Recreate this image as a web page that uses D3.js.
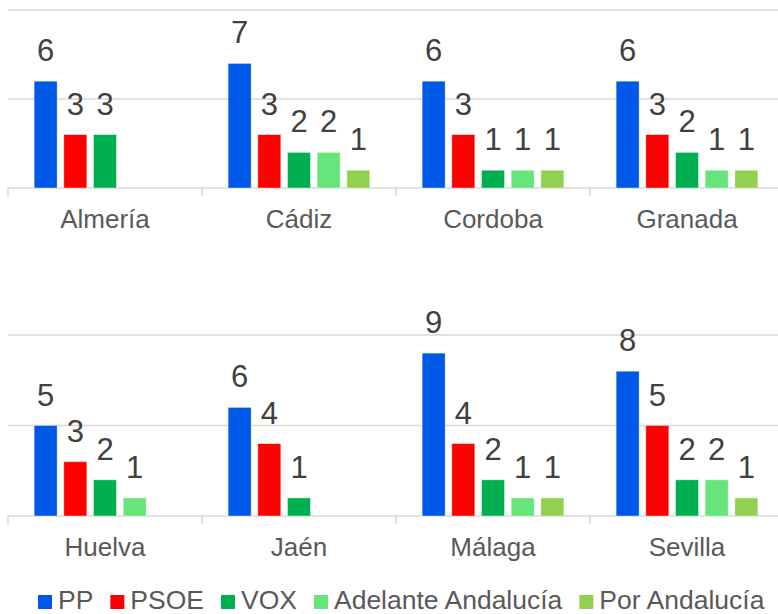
<!DOCTYPE html>
<html>
<head>
<meta charset="utf-8">
<script src="https://cdn.jsdelivr.net/npm/d3@7"></script>
<style>
  body { margin: 0; background: #fff; }
  svg { display: block; font-family: "Liberation Sans", Arial, sans-serif; }
</style>
</head>
<body>
<div id="chart"></div>
<script>
var width = 778, height = 614;

// data (seats per province)
var rowTop = ["Almería", "Cádiz", "Cordoba", "Granada"];
var rowBottom = ["Huelva", "Jaén", "Málaga", "Sevilla"];
var categories = rowTop.concat(rowBottom);
var seriesNames = ["PP", "PSOE", "VOX", "Adelante Andalucía", "Por Andalucía"];
var PP   = [6, 7, 6, 6, 5, 6, 9, 8];
var PSOE = [3, 3, 3, 3, 3, 4, 4, 5];
var VOX  = [3, 2, 1, 2, 2, 1, 2, 2];
var AA   = [0, 2, 1, 1, 1, 0, 1, 2];
var PorA = [0, 1, 1, 1, 0, 0, 1, 1];
var gridTicks = [0, 5, 10];

var seriesValues = [PP, PSOE, VOX, AA, PorA];
var colors = ["#0058E6", "#FF0000", "#00B050", "#66E67A", "#92D050"];

var svg = d3.select("#chart").append("svg")
  .attr("width", width)
  .attr("height", height);

// one panel per row of provinces
var panels = [
  { cats: rowTop,    base: 188, top: 10 },
  { cats: rowBottom, base: 516, top: 335 }
];

panels.forEach(function(p) {
  var x = d3.scaleBand().domain(p.cats).range([8, 784]).padding(0);
  var xs = d3.scaleBand().domain(seriesNames).range([0, x.bandwidth()])
    .paddingInner(0.225).paddingOuter(0.88);
  var y = d3.scaleLinear().domain([0, 10]).range([p.base, p.top]);

  var g = svg.append("g");

  // gridlines
  g.selectAll("line.grid")
    .data(gridTicks)
    .enter().append("line")
      .attr("class", "grid")
      .attr("x1", 8).attr("x2", width)
      .attr("y1", function(d) { return y(d); })
      .attr("y2", function(d) { return y(d); })
      .attr("stroke", "#d9d9d9")
      .attr("stroke-width", 1.5);

  // tick marks between categories
  g.selectAll("line.tick-sep")
    .data(p.cats)
    .enter().append("line")
      .attr("class", "tick-sep")
      .attr("x1", function(d) { return x(d); })
      .attr("x2", function(d) { return x(d); })
      .attr("y1", p.base)
      .attr("y2", p.base + 8)
      .attr("stroke", "#d9d9d9")
      .attr("stroke-width", 1.5);

  // category labels
  g.selectAll("text.cat")
    .data(p.cats)
    .enter().append("text")
      .attr("class", "cat")
      .attr("x", function(d) { return x(d) + x.bandwidth() / 2; })
      .attr("y", p.base + 40)
      .attr("text-anchor", "middle")
      .style("font-size", "26px")
      .style("fill", "#595959")
      .text(function(d) { return d; });

  // bars + value labels
  seriesNames.forEach(function(s, si) {
    var pts = p.cats.map(function(c) {
      return { cat: c, v: seriesValues[si][categories.indexOf(c)] };
    }).filter(function(d) { return d.v > 0; });

    g.selectAll("rect.s" + si)
      .data(pts)
      .enter().append("rect")
        .attr("class", "s" + si)
        .attr("x", function(d) { return x(d.cat) + xs(s); })
        .attr("y", function(d) { return y(d.v); })
        .attr("width", xs.bandwidth())
        .attr("height", function(d) { return p.base - y(d.v); })
        .attr("fill", colors[si])
        .attr("stroke", "#ffffff")
        .attr("stroke-opacity", 0.5)
        .attr("stroke-width", 0.8);

    g.selectAll("text.l" + si)
      .data(pts)
      .enter().append("text")
        .attr("class", "l" + si)
        .attr("x", function(d) { return x(d.cat) + xs(s) + xs.bandwidth() / 2; })
        .attr("y", function(d) { return y(d.v) - 20; })
        .attr("text-anchor", "middle")
        .style("font-size", "31px")
        .style("fill", "#404040")
        .text(function(d) { return d.v; });
  });
});

// legend
var legend = svg.append("g");
var items = legend.selectAll("g.item")
  .data(seriesNames)
  .enter().append("g")
    .attr("class", "item");
items.append("rect")
  .attr("width", 14).attr("height", 14)
  .attr("y", 595)
  .attr("fill", function(d, i) { return colors[i]; });
items.append("text")
  .attr("x", 20)
  .attr("y", 609)
  .style("font-size", "26.5px")
  .style("fill", "#595959")
  .text(function(d) { return d; });

var xpos = 38;
items.each(function() {
  var w = d3.select(this).select("text").node().getComputedTextLength();
  d3.select(this).attr("transform", "translate(" + xpos + ",0)");
  xpos += 20 + w + 17;
});
</script>
</body>
</html>
